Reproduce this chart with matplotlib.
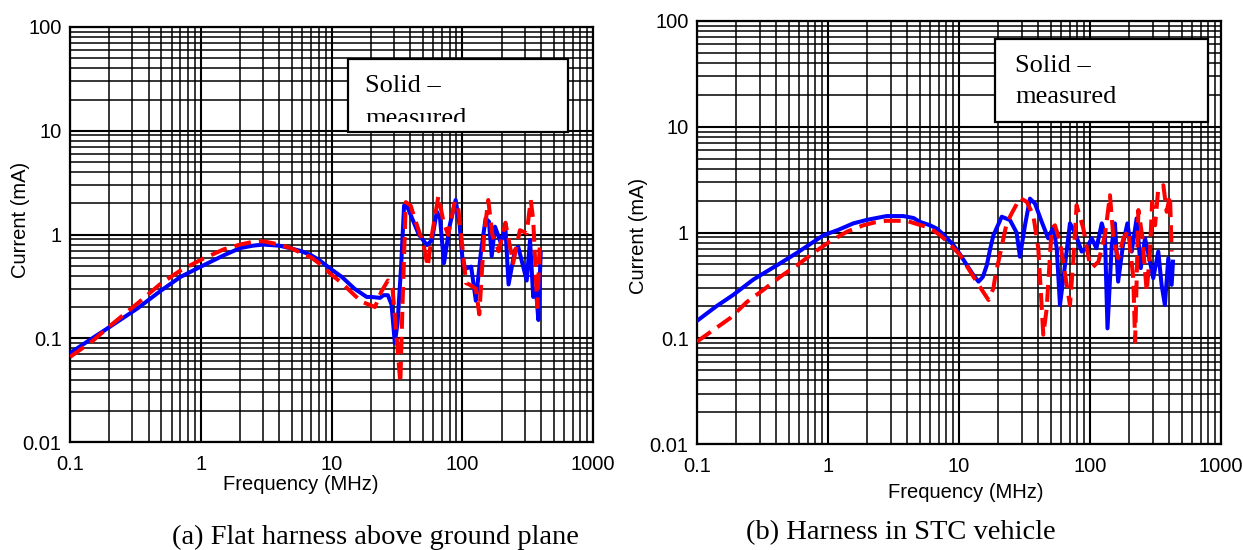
import matplotlib.pyplot as plt
from matplotlib.patches import Rectangle
from matplotlib.ticker import FixedLocator, NullFormatter

# (a) flat harness above ground plane
freq_a_meas = [0.1, 0.15, 0.2, 0.33, 0.5, 0.7, 1, 1.5, 2, 2.5, 3, 4, 5, 5.9, 7, 8, 10,
               12, 15, 18.6, 20.2, 23.5, 25, 27, 28.8, 30.5, 32, 34, 35.9, 37.6, 40.3,
               46.5, 53.7, 58.6, 63.9, 67.6, 72.5, 80.3, 89, 95.5, 101, 107, 117,
               127, 139, 151, 160, 168, 178, 196, 214, 226, 253, 268, 311, 330, 349,
               366, 382, 398]
cur_a_meas = [0.072, 0.101, 0.128, 0.195, 0.29, 0.39, 0.49, 0.63, 0.74, 0.78, 0.80,
              0.78, 0.73, 0.69, 0.63, 0.57, 0.46, 0.39, 0.30, 0.25, 0.25, 0.245, 0.26,
              0.26, 0.21, 0.09, 0.14, 0.47, 1.9, 1.9, 1.55, 1.0, 0.79, 0.88, 1.66,
              1.43, 0.53, 1.23, 2.15, 1.23, 0.53, 0.47, 0.49, 0.23, 0.68, 1.43, 1.33,
              0.62, 1.19, 0.85, 1.14, 0.33, 0.71, 0.76, 0.36, 0.885, 0.25, 0.3, 0.15,
              0.66]

freq_a_sim = [0.1, 0.15, 0.2, 0.33, 0.5, 0.7, 1, 1.5, 2, 2.5, 3, 4, 5, 5.9, 7, 8, 10,
              12, 15, 17, 21.5, 24, 27, 29.3, 32, 33.6, 35, 37, 40.3, 44, 50.7, 54.4,
              58.6, 65.7, 71.7, 78, 87.6, 92.8, 101, 107, 113, 127, 135, 147, 158,
              170, 190, 214, 245, 276, 311, 334, 349, 375, 393]
cur_a_sim = [0.066, 0.095, 0.13, 0.218, 0.34, 0.45, 0.57, 0.72, 0.80, 0.85, 0.86,
             0.80, 0.73, 0.66, 0.60, 0.53, 0.41, 0.34, 0.26, 0.225, 0.20, 0.28, 0.36,
             0.30, 0.08, 0.037, 0.23, 2.05, 1.9, 1.34, 0.79, 0.49, 0.99, 2.35, 1.34,
             0.99, 2.07, 1.9, 0.69, 0.34, 0.33, 0.30, 0.17, 0.99, 2.15, 0.99, 0.69,
             1.3, 0.53, 1.1, 1.03, 2.15, 1.38, 0.2, 0.885]

# (b) harness in STC vehicle
freq_b_meas = [0.1, 0.14, 0.189, 0.27, 0.43, 0.6, 0.92, 1.2, 1.56, 2.0, 2.8, 3.76,
               4.5, 5.04, 6, 6.76, 7.8, 9.06, 10.2, 11.5, 12.8, 14.1, 15.2, 16.3,
               17.3, 18.3, 21.2, 24.5, 27.5, 29.2, 31.9, 34.8, 38, 42.8, 48, 52.5,
               55.7, 59, 64.4, 70.3, 76.8, 86.4, 94.4, 103, 112, 123, 130, 136,
               146.5, 155, 164, 180, 193, 208, 227, 244, 263, 287, 304, 332, 352,
               373, 396, 420, 430]
cur_b_meas = [0.146, 0.2, 0.257, 0.36, 0.51, 0.66, 0.94, 1.06, 1.22, 1.32, 1.43, 1.43,
              1.37, 1.26, 1.17, 1.09, 0.93, 0.76, 0.62, 0.49, 0.40, 0.343, 0.38, 0.49,
              0.7, 0.94, 1.41, 1.31, 1.0, 0.59, 1.17, 2.09, 1.88, 1.26, 0.88, 1.13,
              0.71, 0.206, 0.49, 1.22, 1.0, 0.66, 0.71, 0.88, 0.71, 1.22, 0.94, 0.124,
              0.76, 1.22, 0.343, 0.82, 1.22, 0.66, 1.36, 0.46, 0.88, 0.53, 0.37, 0.66,
              0.32, 0.206, 0.57, 0.32, 0.53]

freq_b_sim = [0.1, 0.14, 0.179, 0.24, 0.32, 0.43, 0.58, 0.8, 1.03, 1.4, 1.86, 2.3,
              2.8, 3.98, 4.8, 5.66, 6.4, 7.2, 8.5, 10.2, 12, 14.1, 16.8, 18.3, 19, 20,
              23.1, 25.2, 29.2, 32.9, 36.9, 40.3, 44, 46.7, 51, 54, 59, 66.4, 70.3,
              74.5, 79, 89, 100, 105, 116, 130, 142, 151, 164, 180, 196, 214, 221,
              234, 250, 271, 287, 298, 314, 332, 363, 385, 408, 420]
cur_b_sim = [0.093, 0.125, 0.155, 0.22, 0.286, 0.38, 0.49, 0.66, 0.82, 1.02, 1.17,
             1.25, 1.29, 1.29, 1.2, 1.13, 1.04, 0.94, 0.78, 0.61, 0.44, 0.32, 0.23,
             0.296, 0.4, 0.53, 1.22, 1.51, 2.12, 1.95, 1.46, 0.71, 0.108, 0.19, 1.09,
             1.17, 0.82, 0.32, 0.206, 0.53, 1.81, 1.09, 0.49, 0.47, 0.53, 0.94, 2.25,
             0.88, 0.57, 0.88, 1.05, 0.37, 0.093, 1.63, 0.94, 0.276, 0.66, 1.95,
             1.17, 2.6, 2.8, 1.57, 2.25, 0.66]

xticks = [0.1, 1, 10, 100, 1000]
xtick_labels = ["0.1", "1", "10", "100", "1000"]
yticks = [0.01, 0.1, 1, 10, 100]
ytick_labels = ["0.01", "0.1", "1", "10", "100"]

SANS = ["Liberation Sans", "DejaVu Sans"]
SERIF = ["Liberation Serif", "DejaVu Serif"]

W, H = 1243, 550
fig = plt.figure(figsize=(W / 100, H / 100), dpi=100)


def px_rect(x0, y0, x1, y1):
    # pixel box (top-left origin) -> figure fraction [l, b, w, h]
    return [x0 / W, 1 - y1 / H, (x1 - x0) / W, (y1 - y0) / H]


def setup(ax):
    ax.set_xscale("log")
    ax.set_yscale("log")
    ax.set_xlim(0.1, 1000)
    ax.set_ylim(0.01, 100)
    ax.xaxis.set_major_locator(FixedLocator(xticks))
    ax.set_xticklabels(xtick_labels)
    ax.yaxis.set_major_locator(FixedLocator(yticks))
    ax.set_yticklabels(ytick_labels)
    ax.xaxis.set_minor_formatter(NullFormatter())
    ax.yaxis.set_minor_formatter(NullFormatter())
    ax.tick_params(which="both", length=0)
    ax.tick_params(axis="x", pad=9)
    ax.tick_params(axis="y", pad=6)
    for lab in ax.get_xticklabels() + ax.get_yticklabels():
        lab.set_family(SANS)
        lab.set_fontsize(14.5)
    ax.grid(which="major", color="black", lw=1.5)
    ax.grid(which="minor", color="black", lw=1.1)
    ax.set_axisbelow(True)
    for s in ax.spines.values():
        s.set_linewidth(1.6)
        s.set_color("black")


def draw(ax, fm, im, fs, is_):
    ax.plot(fm, im, color="#0000ff", lw=2.9, solid_joinstyle="round", zorder=3)
    ax.plot(fs, is_, color="#ff0000", lw=2.9, linestyle=(0, (4.2, 2.0)),
            dash_capstyle="butt", zorder=4)


def legend_box(box, text_x, line_ys, clip_bottom=None):
    x0, y0, x1, y1 = box
    rect = Rectangle((x0 / W, 1 - y1 / H), (x1 - x0) / W, (y1 - y0) / H,
                     transform=fig.transFigure, facecolor="white",
                     edgecolor="black", lw=1.6, zorder=10)
    fig.add_artist(rect)
    clip = None
    if clip_bottom is not None:
        clip = Rectangle((x0 / W, 1 - clip_bottom / H), (x1 - x0) / W,
                         (clip_bottom - y0) / H, transform=fig.transFigure)
    for txt, ty in zip(["Solid –", "measured"], line_ys):
        t = fig.text(text_x / W, 1 - ty / H, txt, family=SERIF, fontsize=19,
                     va="center", ha="left", zorder=11)
        if clip is not None:
            t.set_clip_path(clip)


ax1 = fig.add_axes(px_rect(70, 27, 593, 442))
setup(ax1)
draw(ax1, freq_a_meas, cur_a_meas, freq_a_sim, cur_a_sim)

ax2 = fig.add_axes(px_rect(697, 21, 1221, 444))
setup(ax2)
draw(ax2, freq_b_meas, cur_b_meas, freq_b_sim, cur_b_sim)

legend_box((348, 59, 568, 132), 365, (86, 119), clip_bottom=122)
legend_box((995, 39, 1208, 122), 1015, (66, 97))

fig.text(301 / W, 1 - 485 / H, "Frequency (MHz)", family=SANS, fontsize=14.5,
         ha="center", va="center")
fig.text(966 / W, 1 - 493 / H, "Frequency (MHz)", family=SANS, fontsize=14.5,
         ha="center", va="center")
fig.text(21 / W, 1 - 220 / H, "Current (mA)", family=SANS, fontsize=14.5,
         ha="center", va="center", rotation=90)
fig.text(638 / W, 1 - 236 / H, "Current (mA)", family=SANS, fontsize=14.5,
         ha="center", va="center", rotation=90)

fig.text(375 / W, 1 - 537 / H, "(a) Flat harness above ground plane",
         family=SERIF, fontsize=20.5, ha="center", va="center")
fig.text(901 / W, 1 - 533 / H, "(b) Harness in STC vehicle",
         family=SERIF, fontsize=20.5, ha="center", va="center")

fig.savefig("out.png", dpi=100)
